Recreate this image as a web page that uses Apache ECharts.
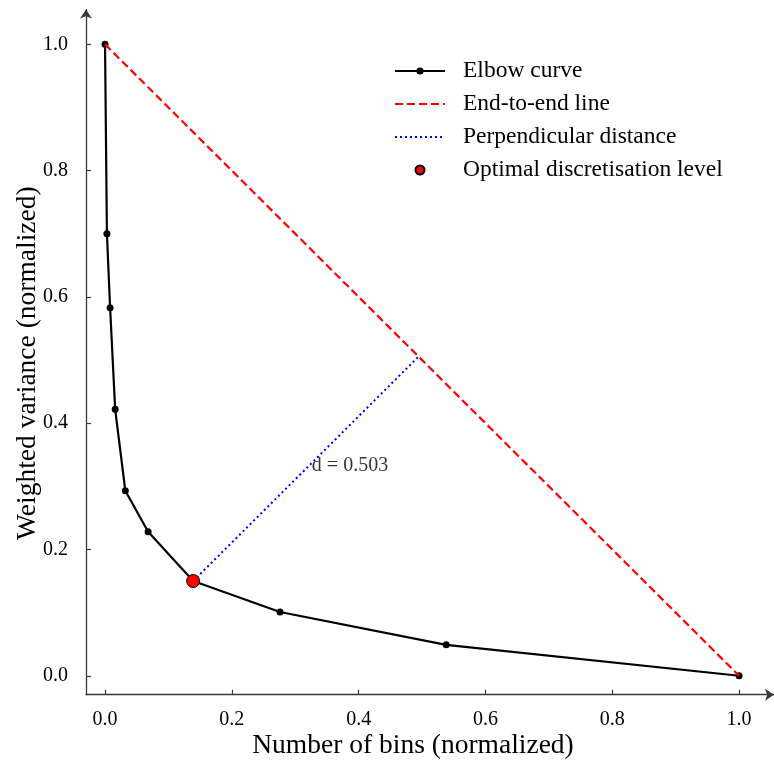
<!DOCTYPE html>
<html>
<head>
<meta charset="utf-8">
<script src="https://cdn.jsdelivr.net/npm/echarts@6/dist/echarts.min.js"></script>
<style>
  html, body { margin: 0; padding: 0; background: #fff; }
  #chart { width: 774px; height: 763px; }
</style>
</head>
<body>
<div id="chart"></div>
<script>
// Elbow curve: normalised number of bins vs normalised weighted variance
const elbowX = [0.0, 0.003, 0.008, 0.016, 0.032, 0.068, 0.139, 0.276, 0.538, 1.0];
const elbowY = [1.0, 0.700, 0.583, 0.422, 0.293, 0.228, 0.150, 0.101, 0.049, 0.0];
const optimalIndex = 6;
const xTicks = [0.0, 0.2, 0.4, 0.6, 0.8, 1.0];
const yTicks = [0.0, 0.2, 0.4, 0.6, 0.8, 1.0];

const FONT = '"Liberation Serif", "DejaVu Serif", serif';

// End-to-end line joins the first and last points of the curve
const p0 = [elbowX[0], elbowY[0]];
const p1 = [elbowX[elbowX.length - 1], elbowY[elbowY.length - 1]];
const opt = [elbowX[optimalIndex], elbowY[optimalIndex]];

// Foot of the perpendicular from the optimal point onto the end-to-end line
const dx = p1[0] - p0[0], dy = p1[1] - p0[1];
const t = ((opt[0] - p0[0]) * dx + (opt[1] - p0[1]) * dy) / (dx * dx + dy * dy);
const foot = [p0[0] + t * dx, p0[1] + t * dy];
const dist = Math.hypot(opt[0] - foot[0], opt[1] - foot[1]);
const mid = [(opt[0] + foot[0]) / 2, (opt[1] + foot[1]) / 2];

const chart = echarts.init(document.getElementById('chart'), null, { renderer: 'canvas' });

const axisCommon = {
  type: 'value',
  min: -0.03,
  max: 1.055,
  splitLine: { show: false },
  axisLine: {
    show: true,
    onZero: false,
    symbol: ['none', 'arrow'],
    symbolSize: [9, 9],
    lineStyle: { color: '#3a3a3a', width: 1.3 }
  },
  axisTick: { show: true, inside: true, length: 5, lineStyle: { color: '#3a3a3a', width: 1.2 } },
  axisLabel: {
    color: '#000',
    fontFamily: FONT,
    fontSize: 20,
    formatter: v => v.toFixed(1)
  },
  nameLocation: 'middle',
  nameMoveOverlap: false
};

// Legend entries for plain lines carry no marker
const noMarker = { color: 'rgba(0,0,0,0)', borderWidth: 0, borderColor: 'rgba(0,0,0,0)' };

chart.setOption({
  animation: false,
  backgroundColor: '#fff',
  grid: { left: 86, right: 0, top: 9.6, bottom: 68.3, containLabel: false, outerBoundsMode: 'none' },
  xAxis: Object.assign({}, axisCommon, {
    name: 'Number of bins (normalized)',
    nameGap: 37,
    nameTextStyle: { color: '#000', fontFamily: FONT, fontSize: 27.5, padding: [0, 34, 0, 0] },
    axisTick: Object.assign({}, axisCommon.axisTick, { customValues: xTicks }),
    axisLabel: Object.assign({}, axisCommon.axisLabel, { customValues: xTicks, margin: 15 })
  }),
  yAxis: Object.assign({}, axisCommon, {
    name: 'Weighted variance (normalized)',
    nameGap: 44,
    nameTextStyle: { color: '#000', fontFamily: FONT, fontSize: 27.5, padding: [0, 22, 0, 0] },
    axisTick: Object.assign({}, axisCommon.axisTick, { customValues: yTicks }),
    axisLabel: Object.assign({}, axisCommon.axisLabel, { customValues: yTicks, margin: 18 })
  }),
  legend: {
    orient: 'vertical',
    left: 389,
    top: 54,
    itemWidth: 50,
    itemHeight: 9,
    itemGap: 9,
    textStyle: { fontFamily: FONT, fontSize: 23.5, color: '#000', padding: [0, 0, 0, 13] },
    data: [
      { name: 'Elbow curve' },
      { name: 'End-to-end line', itemStyle: noMarker },
      { name: 'Perpendicular distance', itemStyle: noMarker },
      { name: 'Optimal discretisation level' }
    ]
  },
  series: [
    {
      name: 'Elbow curve',
      type: 'line',
      data: elbowX.map((x, i) => [x, elbowY[i]]),
      symbol: 'circle',
      symbolSize: 7,
      itemStyle: { color: '#000' },
      lineStyle: { color: '#000', width: 2.2 },
      z: 2
    },
    {
      name: 'End-to-end line',
      type: 'line',
      data: [p0, p1],
      symbol: 'none',
      itemStyle: { color: '#ff0000' },
      lineStyle: { color: '#ff0000', width: 2.2, type: [8, 4] },
      z: 3
    },
    {
      name: 'Perpendicular distance',
      type: 'line',
      data: [opt, foot],
      symbol: 'none',
      itemStyle: { color: '#0000ff' },
      lineStyle: { color: '#0000ff', width: 2, type: [2, 3] },
      z: 3
    },
    {
      name: 'Optimal discretisation level',
      type: 'scatter',
      data: [opt],
      symbol: 'circle',
      symbolSize: 13,
      itemStyle: { color: '#ff0000', opacity: 1, borderColor: '#000', borderWidth: 1 },
      z: 5
    },
    {
      name: 'distance label',
      type: 'scatter',
      data: [mid],
      symbolSize: 0,
      silent: true,
      label: {
        show: true,
        position: 'right',
        distance: 6,
        offset: [0, -3],
        formatter: 'd = ' + dist.toFixed(3),
        fontFamily: FONT,
        fontSize: 20,
        color: '#000'
      },
      z: 4
    }
  ]
});
</script>
</body>
</html>
